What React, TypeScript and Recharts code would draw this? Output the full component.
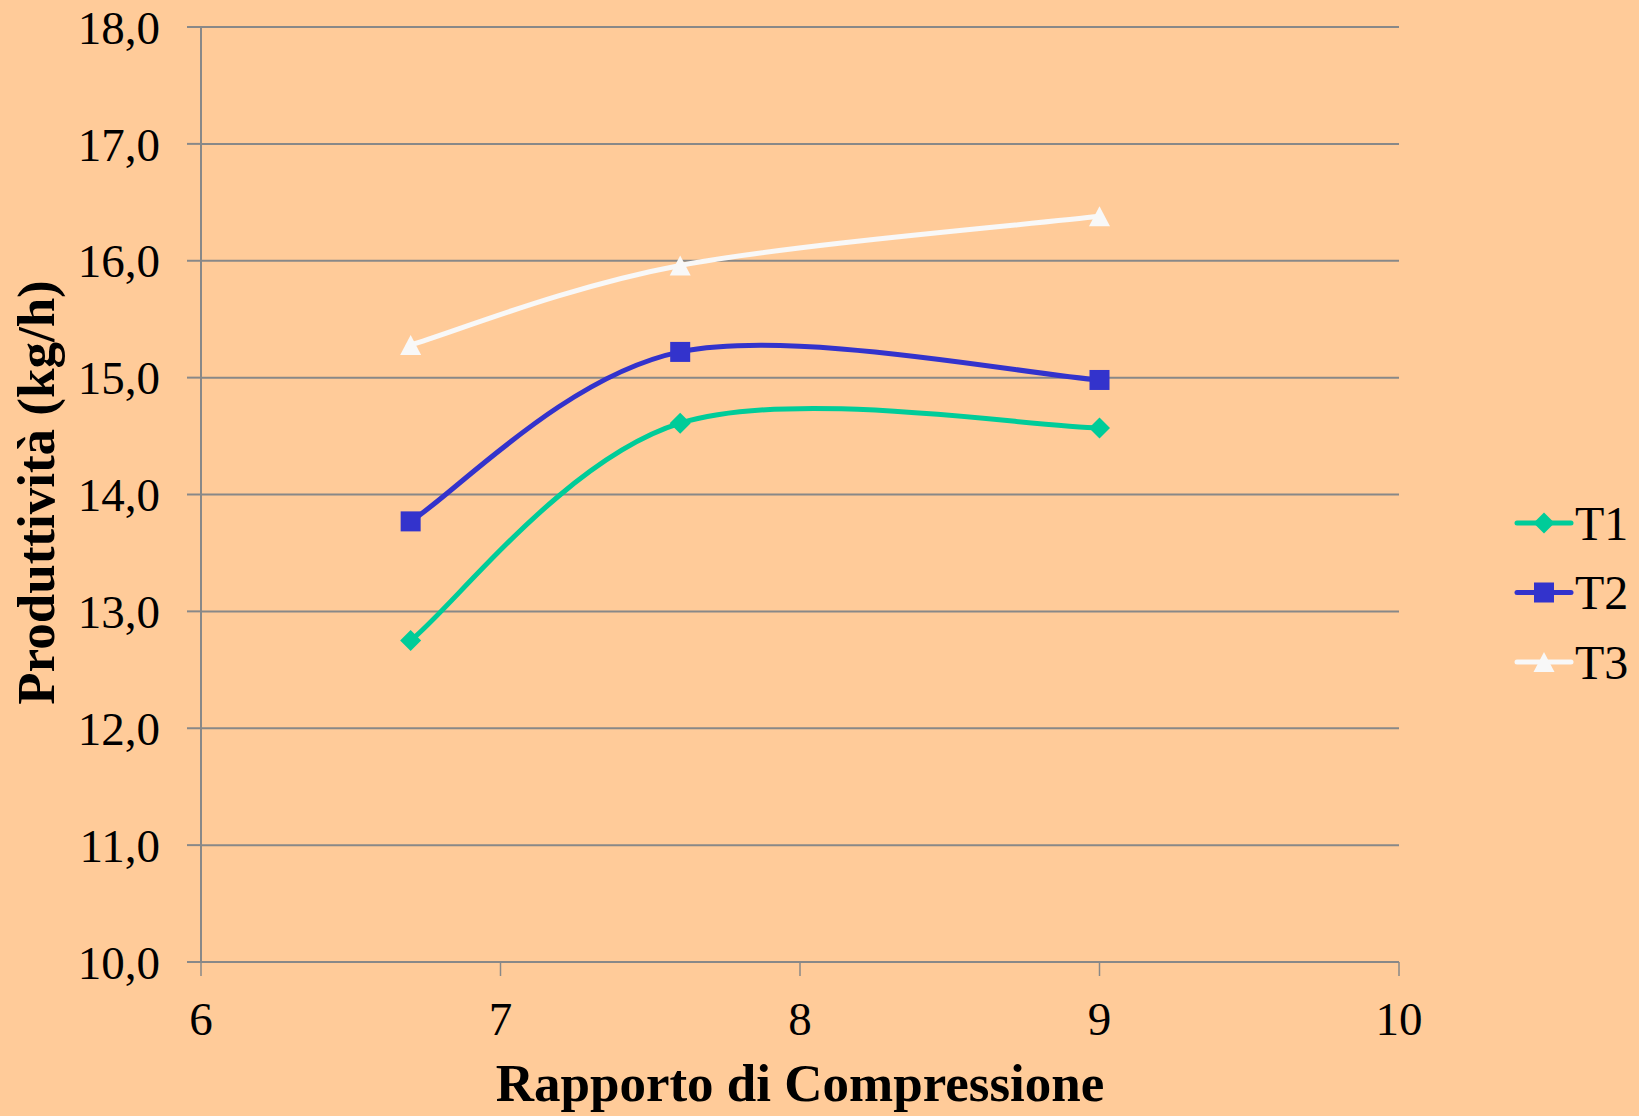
import React from 'react';
import { LineChart, Line, XAxis, YAxis, CartesianGrid, Legend, Label } from 'recharts';

// Compression ratio (x) and productivity in kg/h for each test series
const compressionRatio = [6.7, 7.6, 9.0];
const t1Values = [12.75, 14.61, 14.57];
const t2Values = [13.77, 15.22, 14.98];
const t3Values = [15.28, 15.96, 16.38];

const xTicks = [6, 7, 8, 9, 10];
const yTicks = [10, 11, 12, 13, 14, 15, 16, 17, 18];

const seriesNames = ['T1', 'T2', 'T3'];
const seriesKeys = ['t1', 't2', 't3'];
const seriesColors = ['#00CC99', '#3333CC', '#F8F8F8'];
const seriesMarkers = ['diamond', 'square', 'triangle'];

const data = compressionRatio.map((x, i) => ({
  x,
  t1: t1Values[i],
  t2: t2Values[i],
  t3: t3Values[i],
}));

const FONT = '"Liberation Serif", "Times New Roman", serif';
const GRID = '#888888';

// Smoothed line in the spreadsheet style: cubic Bezier segments whose
// control points come from the neighbouring points (Catmull-Rom, 1/6 tension)
function smoothCurve(context: any) {
  let pts: [number, number][] = [];
  return {
    areaStart() {},
    areaEnd() {},
    lineStart() {
      pts = [];
    },
    point(x: number, y: number) {
      pts.push([+x, +y]);
    },
    lineEnd() {
      if (!pts.length) return;
      context.moveTo(pts[0][0], pts[0][1]);
      for (let i = 0; i < pts.length - 1; i++) {
        const p0 = pts[i - 1] || pts[i];
        const p1 = pts[i];
        const p2 = pts[i + 1];
        const p3 = pts[i + 2] || pts[i + 1];
        context.bezierCurveTo(
          p1[0] + (p2[0] - p0[0]) / 6,
          p1[1] + (p2[1] - p0[1]) / 6,
          p2[0] - (p3[0] - p1[0]) / 6,
          p2[1] - (p3[1] - p1[1]) / 6,
          p2[0],
          p2[1]
        );
      }
    },
  };
}

function Marker({ kind, cx, cy, color }: { kind: string; cx: number; cy: number; color: string }) {
  if (kind === 'diamond') {
    const r = 10.5;
    return <path d={`M${cx},${cy - r}L${cx + r},${cy}L${cx},${cy + r}L${cx - r},${cy}Z`} fill={color} />;
  }
  if (kind === 'square') {
    const r = 10;
    return <rect x={cx - r} y={cy - r} width={2 * r} height={2 * r} fill={color} />;
  }
  const h = 10;
  return <path d={`M${cx},${cy - h}L${cx + 10.5},${cy + h}L${cx - 10.5},${cy + h}Z`} fill={color} />;
}

const fmt = (v: number) => v.toFixed(1).replace('.', ',');

const renderLegend = () => (
  <svg width={134} height={210} style={{ overflow: 'visible' }}>
    {seriesNames.map((name, i) => {
      const cy = 35 + i * 69.5;
      return (
        <g key={name}>
          <line x1={12} x2={66} y1={cy} y2={cy} stroke={seriesColors[i]} strokeWidth={5} strokeLinecap="round" />
          <Marker kind={seriesMarkers[i]} cx={39} cy={cy} color={seriesColors[i]} />
          <text x={70} y={cy} dy="0.35em" fontFamily={FONT} fontSize={48} fill="#000">
            {name}
          </text>
        </g>
      );
    })}
  </svg>
);

export default function App() {
  return (
    <div style={{ position: 'absolute', left: 0, top: 0, width: 1639, height: 1116, background: '#FFCB99' }}>
      <LineChart
        width={1639}
        height={1116}
        data={data}
        margin={{ top: 27, right: 240, bottom: 0, left: 0 }}
      >
        <CartesianGrid horizontal vertical={false} stroke={GRID} strokeWidth={2} />
        <XAxis
          dataKey="x"
          type="number"
          domain={[6, 10]}
          ticks={xTicks}
          height={154}
          tickSize={14}
          tickMargin={26}
          axisLine={{ stroke: GRID, strokeWidth: 2 }}
          tickLine={{ stroke: GRID, strokeWidth: 1.5 }}
          tick={{ fontFamily: FONT, fontSize: 47, fill: '#000' }}
        >
          <Label
            content={({ viewBox }: any) => (
              <text
                x={viewBox.x + viewBox.width / 2}
                y={1101}
                textAnchor="middle"
                fontFamily={FONT}
                fontWeight="bold"
                fontSize={53}
                fill="#000"
              >
                Rapporto di Compressione
              </text>
            )}
          />
        </XAxis>
        <YAxis
          type="number"
          domain={[10, 18]}
          ticks={yTicks}
          width={201}
          tickSize={14}
          tickMargin={27}
          tickFormatter={fmt}
          axisLine={{ stroke: GRID, strokeWidth: 2 }}
          tickLine={{ stroke: GRID, strokeWidth: 2 }}
          tick={{ fontFamily: FONT, fontSize: 47, fill: '#000' }}
        >
          <Label
            content={({ viewBox }: any) => {
              const cy = viewBox.y + viewBox.height / 2 - 2;
              return (
                <text
                  x={54}
                  y={cy}
                  transform={`rotate(-90, 54, ${cy})`}
                  textAnchor="middle"
                  fontFamily={FONT}
                  fontWeight="bold"
                  fontSize={53}
                  fill="#000"
                >
                  Produttività (kg/h)
                </text>
              );
            }}
          />
        </YAxis>
        <Legend
          layout="vertical"
          align="center"
          verticalAlign="middle"
          content={renderLegend}
          wrapperStyle={{ left: 1505, top: 488, width: 134, height: 210 }}
        />
        {seriesKeys.map((key, i) => (
          <Line
            key={key}
            dataKey={key}
            name={seriesNames[i]}
            type={smoothCurve as any}
            stroke={seriesColors[i]}
            strokeWidth={5}
            isAnimationActive={false}
            dot={(p: any) => (
              <Marker key={`${key}-${p.index}`} kind={seriesMarkers[i]} cx={p.cx} cy={p.cy} color={seriesColors[i]} />
            )}
            activeDot={false}
          />
        ))}
      </LineChart>
    </div>
  );
}
